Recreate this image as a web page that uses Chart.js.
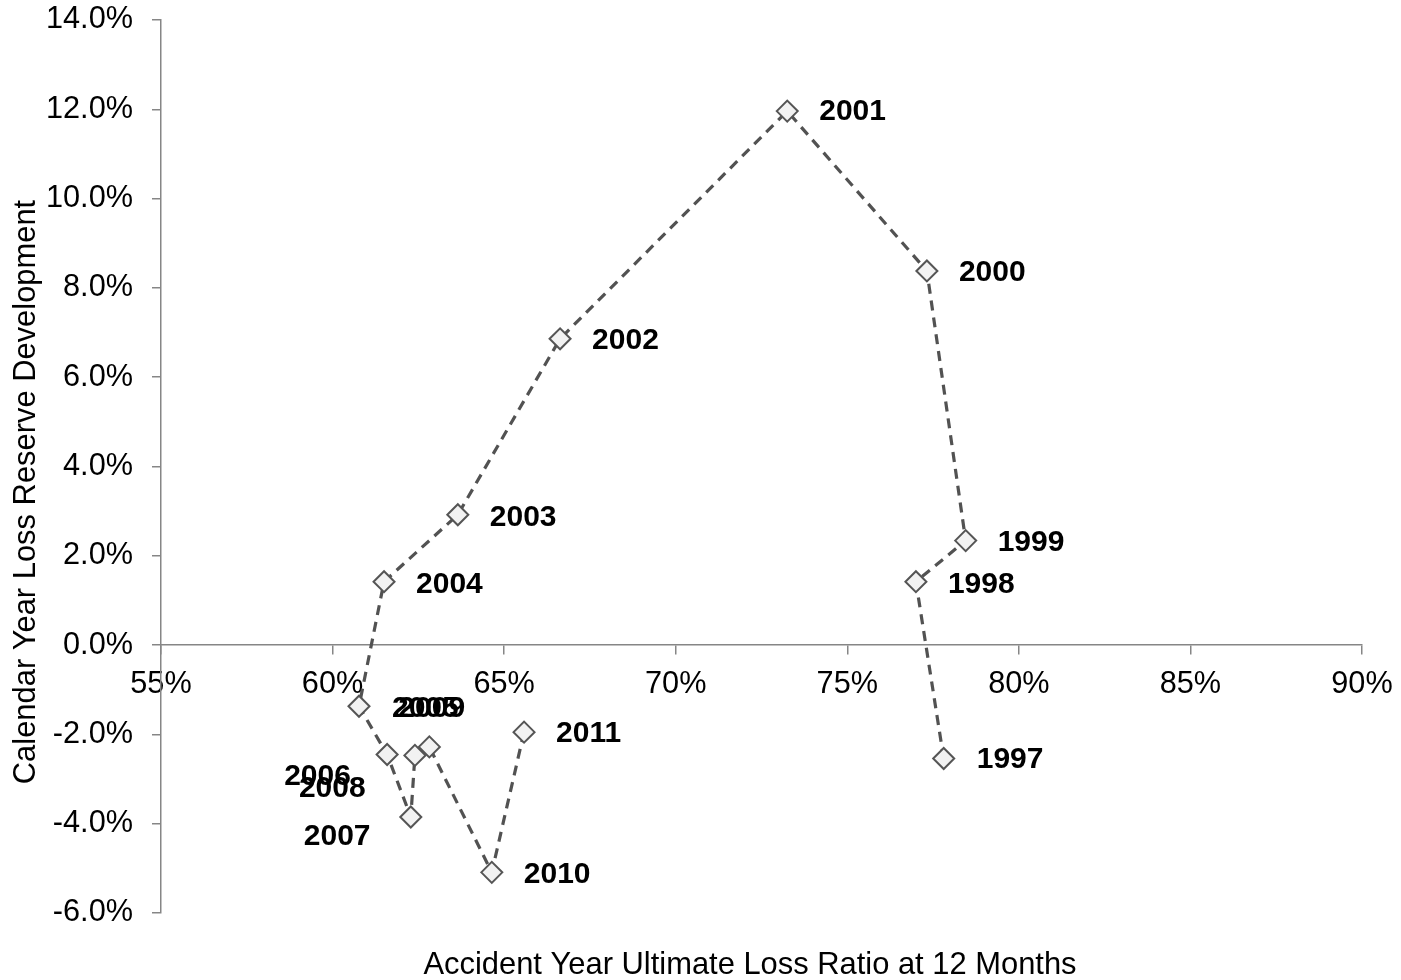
<!DOCTYPE html>
<html>
<head>
<meta charset="utf-8">
<title>Loss Ratio vs Reserve Development</title>
<script src="https://cdn.jsdelivr.net/npm/chart.js@4.4.1/dist/chart.umd.min.js"></script>
<style>
  html, body { margin: 0; padding: 0; background: #ffffff; }
  #wrap { width: 1401px; height: 980px; position: relative; }
  canvas { display: block; }
</style>
</head>
<body>
<div id="wrap"><canvas id="chart" width="1401" height="980"></canvas></div>
<script>
// Accident years, in the order the dashed path connects them
const years = ['1997', '1998', '1999', '2000', '2001', '2002', '2003', '2004',
               '2005', '2006', '2007', '2008', '2009', '2010', '2011'];

// Accident year ultimate loss ratio at 12 months (%)
const lossRatio12m = [77.81, 77.00, 78.45, 77.32, 73.25, 66.63, 63.65, 61.50,
                      60.77, 61.59, 62.28, 62.40, 62.82, 64.64, 65.58];

// Calendar year loss reserve development (%)
const reserveDevelopment = [-2.54, 1.42, 2.34, 8.38, 11.96, 6.86, 2.92, 1.42,
                            -1.37, -2.45, -3.85, -2.47, -2.28, -5.09, -1.95];

// Axis ranges and tick spacing
const xTickRange = { min: 55, max: 90, step: 5 };
const yTickRange = { min: -6, max: 14, step: 2 };

const xAxisTitle = 'Accident Year Ultimate Loss Ratio at 12 Months';
const yAxisTitle = 'Calendar Year Loss Reserve Development';

// Year label placement relative to each marker (left edge / vertical middle)
const labelNudges = [
  [33, 1], [32, 3], [32, 2], [32, 2], [32, 1], [32, 2], [32, 3], [32, 3],
  [33, 2], [-103, 22], [-107, 20], [-116, 33], [-31, -38], [32, 2], [32, 2]
];

const FONT = "'Liberation Sans', Arial, Helvetica, sans-serif";

const points = lossRatio12m.map((x, i) => ({ x: x, y: reserveDevelopment[i] }));

const yearLabelPlugin = {
  id: 'yearLabels',
  afterDatasetsDraw(chart) {
    const ctx = chart.ctx;
    const meta = chart.getDatasetMeta(0);
    ctx.save();
    ctx.font = 'bold 30px ' + FONT;
    ctx.fillStyle = '#000000';
    ctx.textAlign = 'left';
    ctx.textBaseline = 'middle';
    meta.data.forEach((pt, i) => {
      const [dx, dy] = labelNudges[i];
      ctx.fillText(years[i], pt.x + dx, pt.y + dy);
    });
    ctx.restore();
  }
};

const axisTitlePlugin = {
  id: 'axisTitles',
  afterDraw(chart) {
    const ctx = chart.ctx;
    ctx.save();
    ctx.font = '30.9px ' + FONT;
    ctx.fillStyle = '#000000';
    ctx.textAlign = 'center';
    ctx.textBaseline = 'middle';
    ctx.fillText(xAxisTitle, 750, 965);
    ctx.translate(26, 492);
    ctx.rotate(-Math.PI / 2);
    ctx.fillText(yAxisTitle, 0, 0);
    ctx.restore();
  }
};

new Chart(document.getElementById('chart'), {
  type: 'scatter',
  data: {
    datasets: [{
      data: points,
      showLine: true,
      borderColor: '#525252',
      borderWidth: 3.2,
      borderDash: [10, 7],
      pointStyle: 'rectRot',
      pointRadius: 10.5,
      pointHoverRadius: 10.5,
      pointBackgroundColor: '#f2f2f2',
      pointBorderColor: '#555555',
      pointBorderWidth: 2,
      tension: 0
    }]
  },
  options: {
    responsive: false,
    animation: false,
    events: [],
    layout: { padding: { left: 0, top: 20, right: 39, bottom: 67 } },
    plugins: {
      legend: { display: false },
      tooltip: { enabled: false }
    },
    scales: {
      x: {
        type: 'linear',
        position: { y: 0 },
        min: xTickRange.min,
        max: xTickRange.max,
        afterFit(scale) {
          scale.height = 0;
          scale.paddingLeft = 0; scale.paddingRight = 0;
          scale.paddingTop = 0; scale.paddingBottom = 0;
        },
        border: { display: true, color: '#868686', width: 1.5 },
        grid: { drawOnChartArea: false, drawTicks: true, tickLength: 9, color: '#868686', lineWidth: 1.5 },
        ticks: {
          stepSize: xTickRange.step,
          padding: 12.5,
          color: '#000000',
          font: { family: FONT, size: 30.7 },
          callback: (v) => v + '%'
        }
      },
      y: {
        type: 'linear',
        position: 'left',
        min: yTickRange.min,
        max: yTickRange.max,
        afterFit(scale) {
          scale.width = 161;
          scale.paddingTop = 0; scale.paddingBottom = 0;
          scale.paddingLeft = 0; scale.paddingRight = 0;
        },
        border: { display: true, color: '#868686', width: 1.5 },
        grid: { drawOnChartArea: false, drawTicks: true, tickLength: 9, color: '#868686', lineWidth: 1.5 },
        ticks: {
          stepSize: yTickRange.step,
          padding: 19,
          color: '#000000',
          font: { family: FONT, size: 30.7 },
          callback: (v) => v.toFixed(1) + '%'
        }
      }
    }
  },
  plugins: [yearLabelPlugin, axisTitlePlugin]
});
</script>
</body>
</html>
